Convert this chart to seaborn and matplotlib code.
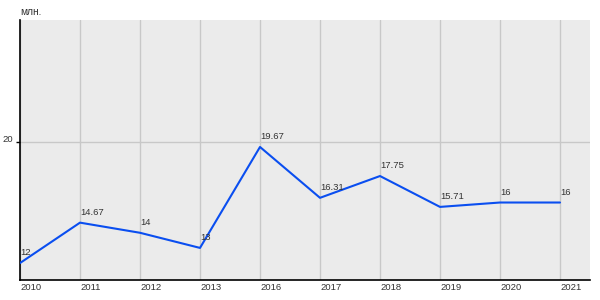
import matplotlib
matplotlib.use("Agg")
import matplotlib.pyplot as plt
import seaborn as sns
import pandas as pd

years = ["2010", "2011", "2012", "2013", "2016", "2017", "2018", "2019", "2020", "2021"]
values = [12, 14.67, 14, 13, 19.67, 16.31, 17.75, 15.71, 16, 16]
value_labels = ["12", "14.67", "14", "13", "19.67", "16.31", "17.75", "15.71", "16", "16"]
y_ticks = [20]
y_unit = "млн."

sns.set_theme(style="white")
plt.rcParams["font.family"] = ["Liberation Sans", "DejaVu Sans"]

df = pd.DataFrame({"year": years, "value": values})

fig = plt.figure(figsize=(6, 3), dpi=100)
ax = fig.add_axes([20 / 600, 20 / 300, 570 / 600, 260 / 300])
ax.set_facecolor("#ebebeb")

sns.lineplot(data=df, x="year", y="value", sort=False, ax=ax,
             color="#0a4ef0", linewidth=1.5, zorder=3)

ax.set_xlim(0, 9.5)
ax.set_ylim(10.88, 28.06)
ax.set_yticks(y_ticks)
ax.set_yticklabels([str(t) for t in y_ticks])
ax.set_xticks(range(len(years)))
ax.set_xticklabels(years)

ax.grid(True, axis="x", color="#c8c8c8", linewidth=1)
ax.grid(True, axis="y", color="#c8c8c8", linewidth=1)
ax.set_axisbelow(True)

for s in ["top", "right"]:
    ax.spines[s].set_visible(False)
for s in ["left", "bottom"]:
    ax.spines[s].set_color("black")
    ax.spines[s].set_linewidth(1.2)

fs = 6.8
ax.tick_params(axis="y", length=2.6, width=1, color="black", labelsize=fs,
               labelcolor="#333333", pad=2.4, left=True)
ax.tick_params(axis="x", length=0, labelsize=fs, labelcolor="#333333", pad=2.2)
for lbl in ax.get_xticklabels():
    lbl.set_horizontalalignment("left")
for lbl in ax.get_yticklabels():
    lbl.set_verticalalignment("baseline")

ax.set_xlabel("")
ax.set_ylabel("")

for i, (v, t) in enumerate(zip(values, value_labels)):
    ax.annotate(t, xy=(i, v), xytext=(0, 4), textcoords="offset points",
                ha="left", va="bottom", fontsize=fs, color="#333333", zorder=4)

fig.text(20 / 600, 1 - 12 / 300, y_unit, ha="left", va="center",
         fontsize=7.3, color="#333333")

fig.savefig("out.png", dpi=100)
